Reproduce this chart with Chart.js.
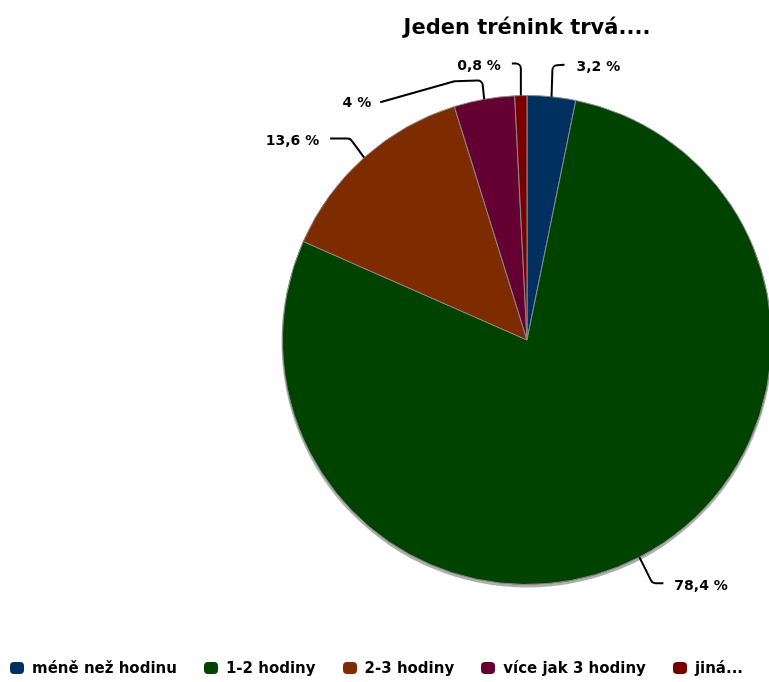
<!DOCTYPE html>
<html lang="cs">
<head>
<meta charset="UTF-8">
<title>Jeden trénink trvá....</title>
<script src="https://cdn.jsdelivr.net/npm/chart.js"></script>
<style>
  body { margin: 0; overflow: hidden; background: #fff; font-family: "DejaVu Sans", sans-serif; }
  #wrap { position: relative; width: 769px; height: 682px; overflow: hidden; }
  #chart { position: absolute; left: 0; top: 0; }
  #title { position: absolute; top: 15px; left: 282px; width: 490px; text-align: center; font-weight: bold; font-size: 21px; color: #000; }
  #legend { position: absolute; top: 659px; left: 10px; display: flex; gap: 27px; font-weight: bold; font-size: 15px; white-space: nowrap; }
  #legend .item { display: flex; align-items: center; }
  #legend .box { width: 14px; height: 12px; border-radius: 4px; margin-right: 8px; }
</style>
</head>
<body>
<div id="wrap">
  <canvas id="chart" width="775" height="682"></canvas>
  <div id="title">Jeden trénink trvá....</div>
  <div id="legend"></div>
</div>
<script>
const labels = ['méně než hodinu', '1-2 hodiny', '2-3 hodiny', 'více jak 3 hodiny', 'jiná...'];
const percents = [3.2, 78.4, 13.6, 4, 0.8];
const colors = ['#00305f', '#004200', '#7f2b00', '#650033', '#7a0000'];

// leader line bends, relative to the slice edge at its mid angle, and where the label sits
const leaders = [
  { path: [[0, 0], [1, -31], [13, -32]], label: [25, -29], align: 'left' },
  { path: [[0, 0], [13, 26], [24, 26]], label: [35, 29], align: 'left' },
  { path: [[0, 0], [-14, -19], [-34, -19]], label: [-45, -16], align: 'right' },
  { path: [[0, 0], [-2, -19], [-30, -18], [-104, 3]], label: [-113, 4], align: 'right' },
  { path: [[0, 0], [0, -32], [-9, -32]], label: [-20, -29], align: 'right' }
];

const fmt = v => String(v).replace('.', ',') + ' %';

const pieShadow = {
  id: 'pieShadow',
  beforeDatasetsDraw(chart) {
    const arc = chart.getDatasetMeta(0).data[0];
    const ctx = chart.ctx;
    ctx.save();
    ctx.fillStyle = 'rgba(120,120,120,0.6)';
    ctx.beginPath();
    ctx.arc(arc.x, arc.y + 2, arc.outerRadius + 1, 0, Math.PI * 2);
    ctx.fill();
    ctx.restore();
  }
};

const leaderLabels = {
  id: 'leaderLabels',
  afterDatasetsDraw(chart) {
    const ctx = chart.ctx;
    chart.getDatasetMeta(0).data.forEach((arc, i) => {
      const p = arc.getProps(['x', 'y', 'startAngle', 'endAngle', 'outerRadius'], true);
      const mid = (p.startAngle + p.endAngle) / 2;
      const ex = p.x + Math.cos(mid) * p.outerRadius;
      const ey = p.y + Math.sin(mid) * p.outerRadius;
      const L = leaders[i];
      const pts = L.path.map(d => [ex + d[0], ey + d[1]]);
      ctx.save();
      ctx.strokeStyle = '#000';
      ctx.lineWidth = 2;
      ctx.lineJoin = 'round';
      ctx.beginPath();
      ctx.moveTo(pts[0][0], pts[0][1]);
      for (let k = 1; k < pts.length - 1; k++) {
        ctx.arcTo(pts[k][0], pts[k][1], pts[k + 1][0], pts[k + 1][1], 5);
      }
      const last = pts[pts.length - 1];
      ctx.lineTo(last[0], last[1]);
      ctx.stroke();
      ctx.fillStyle = '#000';
      ctx.font = 'bold 14px "DejaVu Sans"';
      ctx.textAlign = L.align;
      ctx.textBaseline = 'middle';
      ctx.fillText(fmt(percents[i]), ex + L.label[0], ey + L.label[1]);
      ctx.restore();
    });
  }
};

const chart = new Chart(document.getElementById('chart'), {
  type: 'pie',
  data: {
    labels: labels,
    datasets: [{
      data: percents,
      backgroundColor: colors,
      borderColor: '#8a8a8a',
      borderWidth: 1
    }]
  },
  options: {
    responsive: false,
    animation: false,
    layout: { padding: { left: 282, right: 3, top: 95, bottom: 97 } },
    plugins: {
      legend: { display: false },
      title: { display: false },
      tooltip: { enabled: false }
    }
  },
  plugins: [pieShadow, leaderLabels]
});

// legend below the chart, built from the same arrays
const legend = document.getElementById('legend');
labels.forEach((name, i) => {
  const item = document.createElement('div');
  item.className = 'item';
  const box = document.createElement('span');
  box.className = 'box';
  box.style.background = colors[i];
  const txt = document.createElement('span');
  txt.textContent = name;
  item.appendChild(box);
  item.appendChild(txt);
  legend.appendChild(item);
});
</script>
</body>
</html>
